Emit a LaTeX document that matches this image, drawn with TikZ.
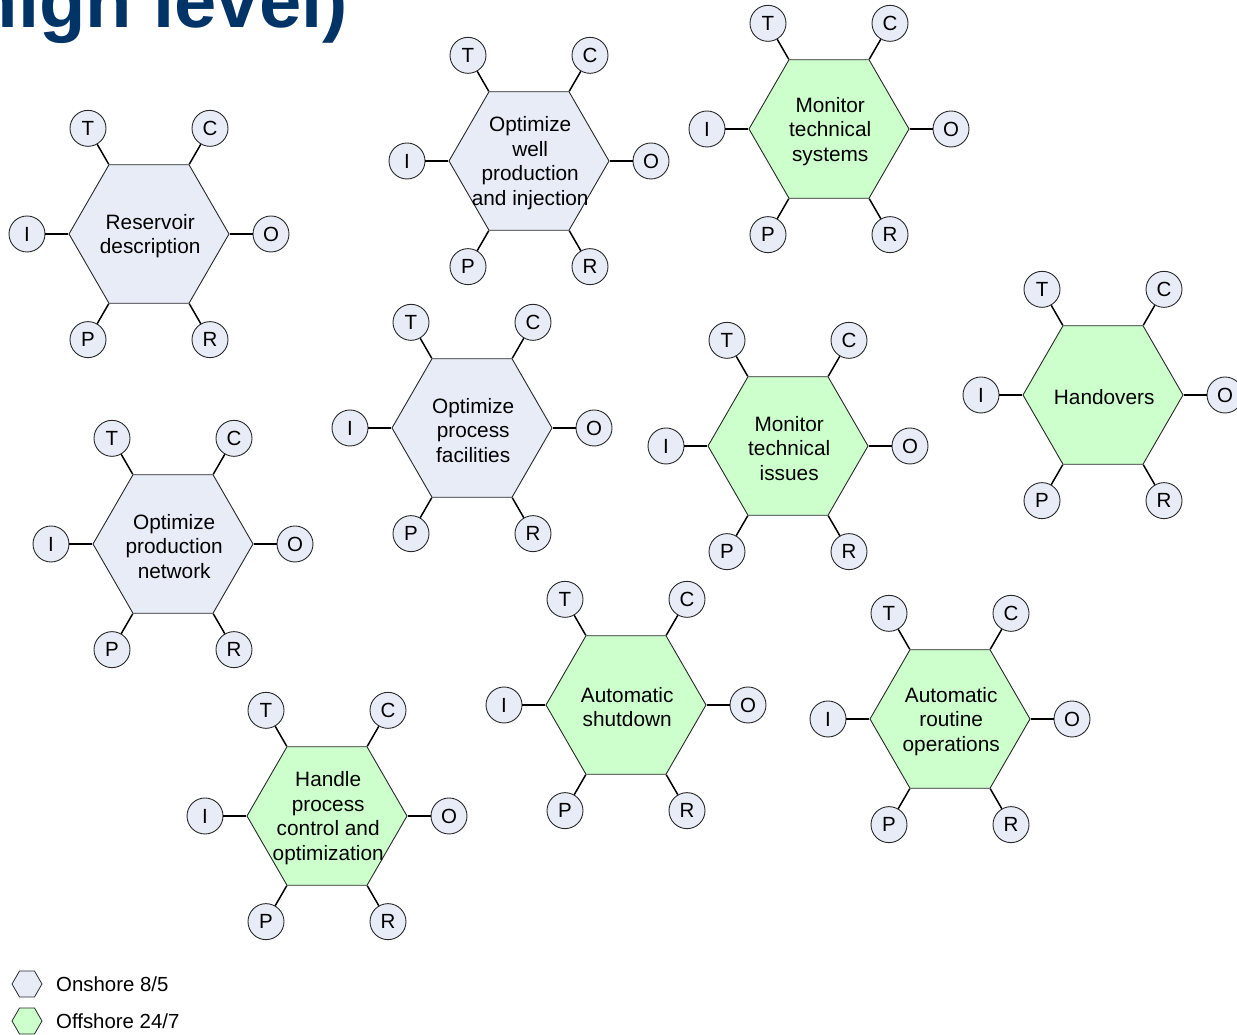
\documentclass[tikz,border=0pt]{standalone}
\usepackage{fontspec}
\setmainfont{Liberation Sans}
\usetikzlibrary{shapes.geometric,calc}
\definecolor{onshore}{RGB}{231,236,247}
\definecolor{offshore}{RGB}{204,255,204}
\definecolor{titleblue}{RGB}{0,51,102}
\definecolor{edgegray}{RGB}{40,40,40}
\tikzset{
  hexbox/.style={regular polygon, regular polygon sides=6, minimum size=160pt, inner sep=0pt, draw=edgegray, line width=0.9pt},
  onsh/.style={fill=onshore},
  offsh/.style={fill=offshore},
  hextext/.style={align=center, inner sep=0pt, font=\fontsize{20.8}{24.5}\selectfont},
  port/.style={circle, minimum size=36pt, inner sep=0pt, draw=edgegray, line width=0.9pt, fill=onshore, font=\fontsize{20.5}{24}\selectfont},
  spoke/.style={line width=1.5pt, black},
  legendhex/.style={regular polygon, regular polygon sides=6, minimum size=30pt, inner sep=0pt, draw=edgegray, line width=0.8pt},
  legendtext/.style={anchor=west, inner sep=0pt, font=\fontsize{20.4}{24}\selectfont}
}
\newcommand\hexunit[5]{%
  \node[hexbox,#4] (#1) at (#2,#3) {};
  \node[hextext] (#1txt) at ([shift={(1.2,-2.2)}]#1.center) {#5};
  \foreach \lt/\ang in {T/120,C/60,O/0,R/-60,P/-120,I/180}{
    \node[port] (#1\lt) at ([shift={(\ang:122)}]#1.center) {\lt};
    \draw[spoke] (#1.\ang) -- (#1\lt);
  }
}
\begin{document}
\begin{tikzpicture}[x=1pt,y=1pt]
\useasboundingbox (0,0) rectangle (1237,1035);
\node[anchor=base east, inner sep=0pt, text=titleblue, font=\fontsize{76}{80}\selectfont\bfseries] (title) at (348,1007) {high level)};
\hexunit{ha}{149}{801}{onsh}{Reservoir\\description}
\hexunit{hb}{529}{874}{onsh}{Optimize\\well\\production\\and injection}
\hexunit{hc}{829}{906}{offsh}{Monitor\\technical\\systems}
\hexunit{hd}{1103}{640}{offsh}{Handovers}
\hexunit{he}{472}{607}{onsh}{Optimize\\process\\facilities}
\hexunit{hf}{788}{589}{offsh}{Monitor\\technical\\issues}
\hexunit{hg}{173}{491}{onsh}{Optimize\\production\\network}
\hexunit{hh}{626}{330}{offsh}{Automatic\\shutdown}
\hexunit{hi}{950}{316}{offsh}{Automatic\\routine\\operations}
\hexunit{hj}{327}{219}{offsh}{Handle\\process\\control and\\optimization}
\node[legendhex, fill=onshore] (lega) at (27,51) {};
\node[legendtext] (legatxt) at (56,51) {Onshore 8/5};
\node[legendhex, fill=offshore] (legb) at (27,14) {};
\node[legendtext] (legbtxt) at (56,14) {Offshore 24/7};
\end{tikzpicture}
\end{document}
